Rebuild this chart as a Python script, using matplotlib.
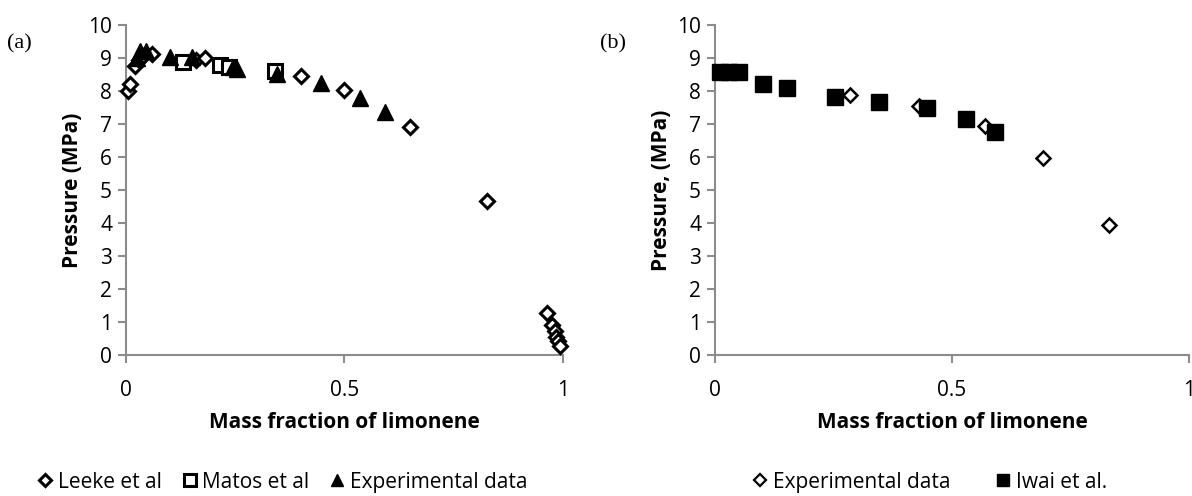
import matplotlib.pyplot as plt
from matplotlib.lines import Line2D

# DATA------------------------------------------------------------------------------------------------------------------
# panel (a)
leeke_x = [0.005, 0.01, 0.02, 0.03, 0.04, 0.06, 0.16, 0.18, 0.24, 0.40, 0.50, 0.65, 0.825,
           0.963, 0.975, 0.981, 0.985, 0.989, 0.993]
leeke_p = [8.0, 8.2, 8.75, 8.95, 9.05, 9.12, 8.95, 9.0, 8.7, 8.45, 8.03, 6.9, 4.68,
           1.28, 0.92, 0.72, 0.55, 0.42, 0.27]
matos_x = [0.13, 0.215, 0.235, 0.34]
matos_p = [8.88, 8.8, 8.72, 8.6]
exp_a_x = [0.025, 0.032, 0.045, 0.10, 0.15, 0.245, 0.255, 0.345, 0.446, 0.535, 0.593]
exp_a_p = [9.0, 9.2, 9.2, 9.02, 9.02, 8.72, 8.68, 8.5, 8.25, 7.8, 7.36]

# panel (b)
exp_b_x = [0.285, 0.43, 0.57, 0.692, 0.831]
exp_b_p = [7.88, 7.55, 6.93, 5.97, 3.95]
iwai_x = [0.01, 0.03, 0.05, 0.101, 0.152, 0.253, 0.346, 0.447, 0.53, 0.59]
iwai_p = [8.58, 8.58, 8.58, 8.21, 8.08, 7.82, 7.66, 7.48, 7.15, 6.76]

xticks = [0, 0.5, 1]
xtick_labels = ['0', '0.5', '1']
yticks = list(range(0, 11))

plt.rcParams['font.family'] = ['Open Sans', 'DejaVu Sans']
AXCOL = '#8c8c8c'
FS = 15


def style_axes(ax, ylabel):
    ax.set_xlim(0, 1)
    ax.set_ylim(0, 10)
    ax.set_xticks(xticks)
    ax.set_xticklabels(xtick_labels)
    ax.set_yticks(yticks)
    for s in ['top', 'right']:
        ax.spines[s].set_visible(False)
    for s in ['left', 'bottom']:
        ax.spines[s].set_color(AXCOL)
        ax.spines[s].set_linewidth(1.5)
    ax.tick_params(axis='both', colors=AXCOL, labelcolor='black', labelsize=FS,
                   length=6, width=1.5, direction='out')
    ax.tick_params(axis='x', pad=12)
    ax.tick_params(axis='y', pad=4)
    ax.set_xlabel('Mass fraction of limonene', fontsize=FS, fontweight='bold', labelpad=8)
    ax.set_ylabel(ylabel, fontsize=FS, fontweight='bold', labelpad=4)


fig = plt.figure(figsize=(11.92, 4.96), dpi=100)
ax1 = fig.add_axes([0.1057, 0.2843, 0.3666, 0.6653])
ax2 = fig.add_axes([0.5998, 0.2843, 0.3977, 0.6653])

ax1.plot(leeke_x, leeke_p, linestyle='none', marker='D', ms=7, mfc='white', mec='black',
         mew=2.2, clip_on=False, zorder=3)
ax1.plot(matos_x, matos_p, linestyle='none', marker='s', ms=10, mfc='white', mec='black',
         mew=2.2, clip_on=False, zorder=3)
ax1.plot(exp_a_x, exp_a_p, linestyle='none', marker='^', ms=11, mfc='black', mec='black',
         clip_on=False, zorder=4)
style_axes(ax1, 'Pressure (MPa)')

ax2.plot(exp_b_x, exp_b_p, linestyle='none', marker='D', ms=7, mfc='white', mec='black',
         mew=1.8, clip_on=False, zorder=3)
ax2.plot(iwai_x, iwai_p, linestyle='none', marker='s', ms=11, mfc='black', mec='black',
         clip_on=False, zorder=3)
style_axes(ax2, 'Pressure, (MPa)')

fig.text(0.006, 0.912, '(a)', fontsize=16, family='Liberation Serif', va='center')
fig.text(0.503, 0.912, '(b)', fontsize=16, family='Liberation Serif', va='center')

h1 = [Line2D([], [], linestyle='none', marker='D', ms=6, mfc='white', mec='black', mew=2.2),
      Line2D([], [], linestyle='none', marker='s', ms=9, mfc='white', mec='black', mew=2.2),
      Line2D([], [], linestyle='none', marker='^', ms=9, mfc='black', mec='black')]
fig.legend(h1, ['Leeke et al', 'Matos et al', 'Experimental data'], loc='center',
           bbox_to_anchor=(0.237, 0.028), ncol=3, frameon=False, fontsize=FS,
           handlelength=0.7, handletextpad=0.25, columnspacing=1.0)

h2 = [Line2D([], [], linestyle='none', marker='D', ms=6, mfc='white', mec='black', mew=1.6),
      Line2D([], [], linestyle='none', marker='s', ms=9, mfc='black', mec='black')]
fig.legend(h2, ['Experimental data', 'Iwai et al.'], loc='center',
           bbox_to_anchor=(0.78, 0.028), ncol=2, frameon=False, fontsize=FS,
           handlelength=0.7, handletextpad=0.25, columnspacing=2.2)

plt.savefig('out.png', dpi=100)
